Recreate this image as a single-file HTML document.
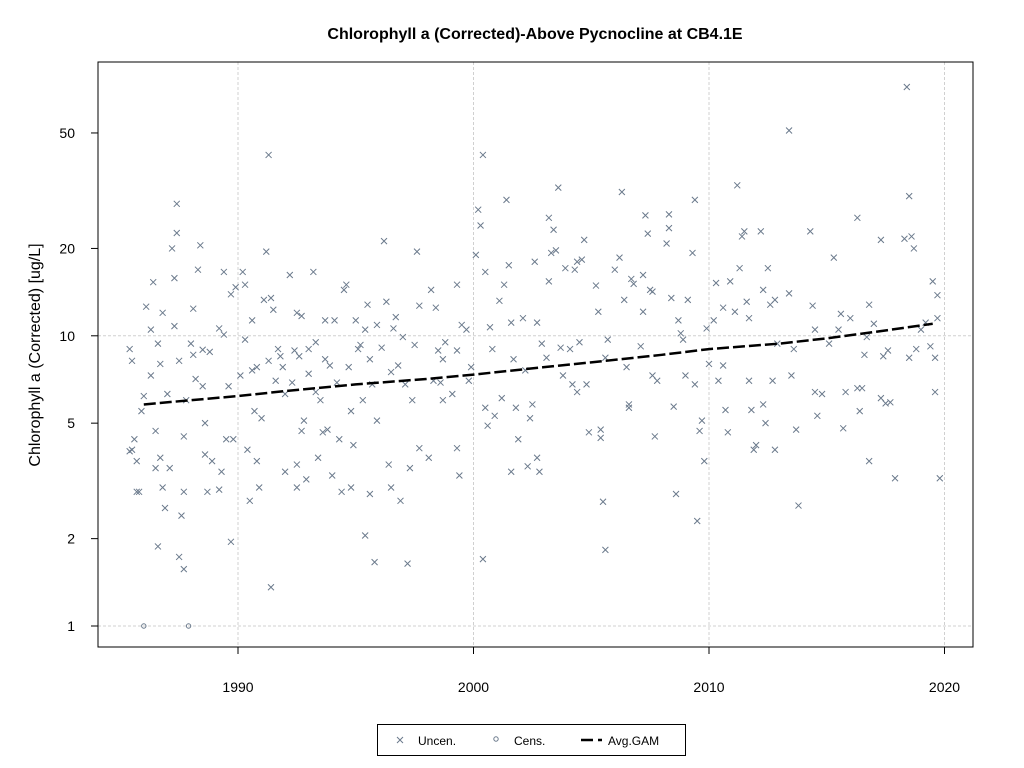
<!DOCTYPE html>
<html><head><meta charset="utf-8"><style>
body{margin:0;background:#fff;}
svg{display:block;font-family:"Liberation Sans",Arial,sans-serif;}
</style></head><body>
<svg id="chart" width="1024" height="768">
<rect width="1024" height="768" fill="#fff"/>
<text x="535" y="39" text-anchor="middle" font-size="16" font-weight="bold">Chlorophyll a (Corrected)-Above Pycnocline at CB4.1E</text>
<g id="grid"></g>
<g id="points"></g>
<g id="gam"></g>
<rect x="98" y="62" width="875" height="585" fill="none" stroke="#000" stroke-width="1"/>
<g id="axes"></g>
<text transform="translate(40,355) rotate(-90)" text-anchor="middle" font-size="16">Chlorophyll a (Corrected) [ug/L]</text>
<g>
<rect x="377.5" y="724.5" width="308" height="31" fill="#fff" stroke="#000"/>
<g><path d="M397,737l6,6M403,737l-6,6" stroke="#6b7a8c" stroke-width="1"/><text x="418" y="745" font-size="12">Uncen.</text></g>
<g><circle cx="496" cy="739" r="2.2" fill="none" stroke="#6b7a8c"/><text x="514" y="745" font-size="12">Cens.</text></g>
<g><path d="M581,740h12M598,740h4" stroke="#000" stroke-width="2.5"/><text x="608" y="745" font-size="12">Avg.GAM</text></g>
</g>
</svg>
<script>
const years=[1985.4,1985.5,1985.4,1985.5,1985.6,1985.7,1985.8,1985.7,1985.9,1986,1986.1,1986.3,1986.3,1986.4,1986.5,1986.5,1986.6,1986.6,1986.7,1986.7,1986.8,1986.8,1986.9,1987,1987.1,1987.2,1987.3,1987.3,1987.4,1987.4,1987.5,1987.5,1987.6,1987.7,1987.7,1987.7,1987.8,1988,1988.1,1988.1,1988.2,1988.3,1988.4,1988.5,1988.5,1988.6,1988.6,1988.7,1988.8,1988.9,1989.2,1989.2,1989.3,1989.4,1989.4,1989.5,1989.6,1989.7,1989.7,1989.8,1989.9,1990.1,1990.2,1990.3,1990.3,1990.4,1990.5,1990.6,1990.6,1990.7,1990.8,1990.8,1990.9,1991,1991.1,1991.2,1991.3,1991.3,1991.4,1991.4,1991.5,1991.6,1991.7,1991.8,1991.9,1992,1992,1992.2,1992.3,1992.4,1992.5,1992.5,1992.5,1992.6,1992.7,1992.7,1992.8,1992.9,1993,1993,1993.2,1993.3,1993.3,1993.4,1993.5,1993.6,1993.7,1993.7,1993.8,1993.9,1994,1994.1,1994.2,1994.3,1994.4,1994.5,1994.6,1994.7,1994.8,1994.8,1994.9,1995,1995.1,1995.2,1995.3,1995.4,1995.4,1995.5,1995.6,1995.6,1995.7,1995.8,1995.9,1995.9,1996.1,1996.2,1996.3,1996.4,1996.5,1996.5,1996.6,1996.7,1996.8,1996.9,1997,1997.1,1997.2,1997.3,1997.4,1997.5,1997.6,1997.7,1997.7,1998.1,1998.2,1998.3,1998.4,1998.5,1998.6,1998.7,1998.7,1998.8,1999.1,1999.3,1999.3,1999.3,1999.4,1999.5,1999.7,1999.8,1999.9,2000.1,2000.2,2000.3,2000.4,2000.4,2000.5,2000.5,2000.6,2000.7,2000.8,2000.9,2001.1,2001.2,2001.3,2001.4,2001.5,2001.6,2001.6,2001.7,2001.8,2001.9,2002.1,2002.2,2002.3,2002.4,2002.5,2002.6,2002.7,2002.7,2002.8,2002.9,2003.1,2003.2,2003.2,2003.3,2003.4,2003.5,2003.6,2003.7,2003.8,2003.9,2004.1,2004.2,2004.3,2004.4,2004.4,2004.5,2004.6,2004.7,2004.8,2004.9,2005.2,2005.3,2005.4,2005.4,2005.5,2005.6,2005.6,2005.7,2006,2006.2,2006.3,2006.4,2006.5,2006.6,2006.6,2006.7,2006.8,2007.1,2007.2,2007.2,2007.3,2007.4,2007.5,2007.6,2007.6,2007.7,2007.8,2008.2,2008.3,2008.3,2008.4,2008.5,2008.6,2008.7,2008.8,2008.9,2009,2009.1,2009.3,2009.4,2009.4,2009.5,2009.6,2009.7,2009.8,2009.9,2010,2010.2,2010.3,2010.4,2010.6,2010.6,2010.7,2010.8,2010.9,2011.1,2011.2,2011.3,2011.4,2011.5,2011.6,2011.7,2011.7,2011.8,2011.9,2012,2012.2,2012.3,2012.3,2012.4,2012.5,2012.6,2012.7,2012.8,2012.8,2012.9,2013.4,2013.4,2013.5,2013.6,2013.7,2013.8,2014.3,2014.4,2014.5,2014.5,2014.6,2014.8,2015.1,2015.3,2015.5,2015.6,2015.7,2015.8,2016,2016.3,2016.3,2016.4,2016.5,2016.6,2016.7,2016.8,2016.8,2017,2017.3,2017.3,2017.4,2017.5,2017.6,2017.7,2017.9,2018.3,2018.4,2018.5,2018.5,2018.6,2018.7,2018.8,2019,2019.2,2019.4,2019.5,2019.6,2019.6,2019.7,2019.8,2019.7];
const values=[9,8.2,4,4.05,4.4,2.9,2.9,3.7,5.5,6.2,12.6,7.3,10.5,15.3,4.7,3.5,1.88,9.4,8,3.8,12,3,2.55,6.3,3.5,20,15.8,10.8,28.5,22.6,8.2,1.73,2.4,2.9,1.57,4.5,6,9.4,8.6,12.4,7.1,16.9,20.5,8.95,6.7,5,3.9,2.9,8.8,3.7,10.6,2.95,3.4,16.6,10.1,4.4,6.7,1.95,13.9,4.4,14.7,7.3,16.6,15,9.7,4.05,2.7,11.3,7.6,5.5,7.8,3.7,3,5.2,13.3,19.5,8.2,42,1.36,13.5,12.3,7,9,8.5,7.8,6.3,3.4,16.2,6.9,8.9,12,3.6,3,8.5,11.7,4.7,5.1,3.2,7.4,9,16.6,6.4,9.5,3.8,6,4.65,11.3,8.3,4.75,7.9,3.3,11.3,6.9,4.4,2.9,14.4,15,7.8,5.5,3,4.2,11.3,9,9.3,6,10.5,2.05,12.8,8.3,2.85,6.8,1.66,10.9,5.1,9.1,21.2,13.1,3.6,7.5,3,10.6,11.6,7.9,2.7,9.9,6.8,1.64,3.5,6,9.3,19.5,4.1,12.7,3.8,14.4,7,12.5,8.9,6.9,8.3,6,9.5,6.3,8.9,4.1,15,3.3,10.9,10.5,7,7.8,19,27.2,24,42,1.7,16.6,5.65,4.9,10.7,9,5.3,13.2,6.1,15,29.4,17.5,11.1,3.4,8.3,5.65,4.4,11.5,7.6,3.55,5.2,5.8,18,11.1,3.8,3.4,9.4,8.4,15.4,25.5,19.3,23.2,19.7,32.4,9.1,7.3,17.1,9,6.8,16.9,6.4,18,9.5,18.3,21.4,6.8,4.65,14.9,12.1,4.45,4.75,2.68,1.83,8.4,9.7,16.9,18.6,31.3,13.3,7.8,5.65,5.8,15.7,15.1,9.2,16.2,12.1,26,22.5,14.4,14.2,7.3,4.5,7,20.8,26.2,23.5,13.5,5.7,2.85,11.3,10.2,9.7,7.3,13.3,19.3,29.4,6.8,2.3,4.7,5.1,3.7,10.6,8,11.3,15.2,7,12.5,7.9,5.55,4.65,15.4,12.1,33,17.1,22,22.9,13.1,11.5,7,5.55,4.05,4.2,22.9,14.4,5.8,5,17.1,12.8,7,4.05,13.3,9.4,51,14,7.3,9,4.75,2.6,22.9,12.7,10.5,6.4,5.3,6.3,9.4,18.6,10.5,11.9,4.8,6.4,11.5,25.5,6.6,5.5,6.6,8.6,9.9,3.7,12.8,11,21.4,6.1,8.5,5.85,8.9,5.9,3.23,21.6,72,30.3,8.4,22,20,9,10.5,11.1,9.2,15.4,6.4,8.4,13.8,3.23,11.5];
const censYears=[1986,1987.9];
const censValues=[1,1];
const gamYears=[1986,1988,1990,1992,1995,1998,2000,2003,2005,2008,2010,2013,2015,2017,2019.5];
const gamValues=[5.8,6.0,6.2,6.45,6.8,7.1,7.35,7.8,8.1,8.6,9.0,9.4,9.8,10.3,11.0];
const xTicks=[1990,2000,2010,2020];
const yTicks=[1,2,5,10,20,50];

const NS='http://www.w3.org/2000/svg';
const X=y=>238+(y-1990)*23.55;
const Y=v=>626-Math.log10(v)*290.2;
function mk(tag,attrs,parent){const e=document.createElementNS(NS,tag);for(const k in attrs)e.setAttribute(k,attrs[k]);parent.appendChild(e);return e;}
const grid=document.getElementById('grid'),pts=document.getElementById('points'),gam=document.getElementById('gam'),axes=document.getElementById('axes');
xTicks.forEach(t=>{const l=mk('line',{x1:X(t),x2:X(t),y1:62,y2:647,stroke:'#d0d0d0','stroke-dasharray':'3,2'},grid);

});
[1,10].forEach(t=>{const l=mk('line',{x1:98,x2:973,y1:Y(t),y2:Y(t),stroke:'#d0d0d0','stroke-dasharray':'3,2'},grid);

});
years.forEach((yr,i)=>{const x=X(yr),y=Y(values[i]);
const p=mk('path',{d:`M${x-3},${y-3}l6,6M${x+3},${y-3}l-6,6`,stroke:'#6b7a8c','stroke-width':1},pts);

});
censYears.forEach((yr,i)=>{const c=mk('circle',{cx:X(yr),cy:Y(censValues[i]),r:2.2,fill:'none',stroke:'#6b7a8c'},pts);

});
const gp=mk('polyline',{points:gamYears.map((g,i)=>X(g)+','+Y(gamValues[i])).join(' '),fill:'none',stroke:'#000','stroke-width':2.5,'stroke-dasharray':'12,4'},gam);


xTicks.forEach(t=>{mk('line',{x1:X(t),x2:X(t),y1:647,y2:654,stroke:'#000'},axes);
const tx=mk('text',{x:X(t),y:692,'text-anchor':'middle','font-size':14},axes);tx.textContent=t;

});
mk('line',{x1:X(1990),x2:X(2020),y1:647,y2:647,stroke:'#000'},axes);
yTicks.forEach(t=>{mk('line',{x1:91,x2:98,y1:Y(t),y2:Y(t),stroke:'#000'},axes);
const tx=mk('text',{x:75,y:Y(t)+5,'text-anchor':'end','font-size':14},axes);tx.textContent=t;

});
</script>
</body></html>
